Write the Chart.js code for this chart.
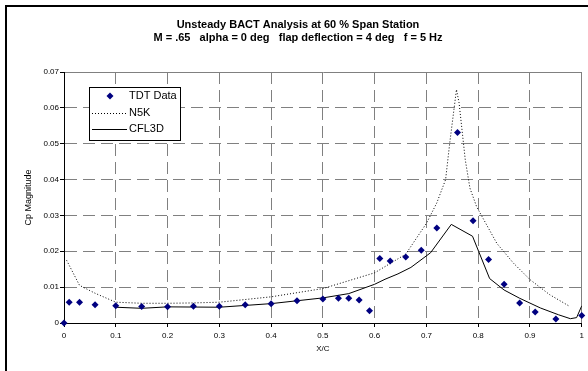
<!DOCTYPE html>
<html><head><meta charset="utf-8">
<script src="https://cdn.jsdelivr.net/npm/chart.js@4/dist/chart.umd.min.js"></script>
<style>html,body{margin:0;padding:0;background:#fff}#wrap{width:588px;height:371px;position:relative}</style>
</head><body><div id="wrap"><canvas id="c" width="588" height="371"></canvas></div>
<script>
const titleLines = ["Unsteady BACT Analysis at 60 % Span Station", "M = .65   alpha = 0 deg   flap deflection = 4 deg   f = 5 Hz"];
const xTitle = "X/C";
const yTitle = "Cp Magnitude";
const seriesNames = ["TDT Data", "N5K", "CFL3D"];

const tdtX = [0, 0.01, 0.03, 0.06, 0.1, 0.15, 0.2, 0.25, 0.3, 0.35, 0.4, 0.45, 0.5, 0.53, 0.55, 0.57, 0.59, 0.61, 0.63, 0.66, 0.69, 0.72, 0.76, 0.79, 0.82, 0.85, 0.88, 0.91, 0.95, 1.0];
const tdtY = [0, 0.0058, 0.0058, 0.0051, 0.0048, 0.0046, 0.0045, 0.0047, 0.0047, 0.0051, 0.0054, 0.0062, 0.0067, 0.0069, 0.0069, 0.0064, 0.0034, 0.0180, 0.0173, 0.0184, 0.0203, 0.0265, 0.0531, 0.0285, 0.0177, 0.0108, 0.0056, 0.0031, 0.0011, 0.0021];

const n5kX = [0.005, 0.03, 0.06, 0.1, 0.15, 0.2, 0.25, 0.3, 0.4, 0.5, 0.6, 0.66, 0.7, 0.72, 0.737, 0.745, 0.758, 0.763, 0.775, 0.784, 0.797, 0.836, 0.868, 0.9, 0.938, 0.977];
const n5kY = [0.0175, 0.0105, 0.0083, 0.0058, 0.0055, 0.0055, 0.0056, 0.0058, 0.0073, 0.0096, 0.0140, 0.0192, 0.0278, 0.0335, 0.0400, 0.0502, 0.0651, 0.0614, 0.0455, 0.0376, 0.0324, 0.0222, 0.0167, 0.0121, 0.0079, 0.0046];

const cflX = [0.1, 0.15, 0.2, 0.3, 0.4, 0.5, 0.55, 0.6, 0.62, 0.645, 0.67, 0.708, 0.748, 0.789, 0.822, 0.85, 0.88, 0.92, 0.955, 0.978, 0.99, 1.0];
const cflY = [0.0044, 0.0041, 0.0045, 0.0044, 0.0054, 0.0070, 0.0082, 0.0108, 0.0122, 0.0137, 0.0155, 0.0196, 0.0275, 0.0242, 0.0124, 0.0092, 0.0069, 0.0042, 0.0023, 0.0012, 0.0015, 0.0048];

const xTicks = [0, 0.1, 0.2, 0.3, 0.4, 0.5, 0.6, 0.7, 0.8, 0.9, 1];
const yTicks = [0, 0.01, 0.02, 0.03, 0.04, 0.05, 0.06, 0.07];

const pts = (xs, ys) => xs.map((x, i) => ({x: x, y: ys[i]}));
const FONT = "'Liberation Sans', Arial, sans-serif";
const GRID = '#808080';

const bgPlugin = {
  id: 'bg',
  beforeDraw(chart) {
    const c = chart.ctx;
    c.save(); c.fillStyle = '#fff'; c.fillRect(0, 0, chart.width, chart.height);
    c.strokeStyle = '#000'; c.lineWidth = 2;
    c.beginPath(); c.moveTo(6, 371); c.lineTo(6, 6); c.lineTo(588, 6); c.stroke();
    c.fillStyle = '#000'; c.textAlign = 'center'; c.textBaseline = 'middle';
    c.font = 'bold 11px ' + FONT;
    c.fillText(titleLines[0], 298, 25);
    c.fillText(titleLines[1], 298, 38);
    c.restore();
  },
  afterDraw(chart) {
    const c = chart.ctx;
    const L = 89, T = 87, W = 91, H = 53;
    c.save();
    c.fillStyle = '#fff'; c.fillRect(L, T, W, H);
    c.strokeStyle = '#000'; c.lineWidth = 1; c.strokeRect(L + 0.5, T + 0.5, W, H);
    c.font = '11px ' + FONT; c.textAlign = 'left'; c.textBaseline = 'middle'; c.fillStyle = '#000';
    const ys = [96, 113, 129];
    c.fillStyle = '#000080';
    c.beginPath(); c.moveTo(110, ys[0] - 3.5); c.lineTo(113.5, ys[0]); c.lineTo(110, ys[0] + 3.5); c.lineTo(106.5, ys[0]); c.closePath(); c.fill();
    c.strokeStyle = '#000';
    c.setLineDash([1, 2]); c.beginPath(); c.moveTo(92, ys[1] + 0.5); c.lineTo(127, ys[1] + 0.5); c.stroke();
    c.setLineDash([]); c.beginPath(); c.moveTo(92, ys[2] + 0.5); c.lineTo(127, ys[2] + 0.5); c.stroke();
    c.fillStyle = '#000';
    seriesNames.forEach((n, i) => c.fillText(n, 129, ys[i]));
    c.restore();
  }
};

new Chart(document.getElementById('c'), {
  type: 'scatter',
  data: {
    datasets: [
      {label: seriesNames[0], data: pts(tdtX, tdtY), showLine: false, pointStyle: 'rectRot', pointRadius: 3.5, pointHoverRadius: 3.5,
       backgroundColor: '#000080', borderColor: '#000080', borderWidth: 0, clip: false, order: 0},
      {label: seriesNames[1], data: pts(n5kX, n5kY), showLine: true, pointRadius: 0, borderColor: '#000', borderWidth: 1,
       borderDash: [1, 2], tension: 0, fill: false, order: 1},
      {label: seriesNames[2], data: pts(cflX, cflY), showLine: true, pointRadius: 0, borderColor: '#000', borderWidth: 1,
       tension: 0, fill: false, order: 2}
    ]
  },
  options: {
    responsive: false, animation: false, devicePixelRatio: 1,
    layout: {padding: {left: 0, top: 72, right: 3, bottom: 0}},
    plugins: {legend: {display: false}, title: {display: false}, tooltip: {enabled: false}},
    scales: {
      x: {
        type: 'linear', min: 0, max: 1,
        afterBuildTicks: s => { s.ticks = xTicks.map(v => ({value: v})); },
        afterFit: s => { s.height = 48; },
        ticks: {font: {family: FONT, size: 8}, color: '#000', padding: 4, maxRotation: 0,
                callback: v => (v === 0 ? '0' : v === 1 ? '1' : v.toFixed(1))},
        grid: {color: ctx => (ctx.tick && ctx.tick.value === 0 ? '#000' : GRID), lineWidth: 1, tickLength: 4, tickColor: '#000'},
        border: {display: true, color: '#000', width: 1,
                 dash: ctx => (ctx.tick && (ctx.tick.value === 0 || ctx.tick.value === 1) ? [] : [12, 6])},
        title: {display: true, text: xTitle, font: {family: FONT, size: 8}, color: '#000', padding: {top: 0, bottom: 17}}
      },
      y: {
        type: 'linear', min: 0, max: 0.07,
        afterBuildTicks: s => { s.ticks = yTicks.map(v => ({value: v})); },
        afterFit: s => { s.width = 64; },
        ticks: {font: {family: FONT, size: 8}, color: '#000', padding: 1,
                callback: v => (v === 0 ? '0' : v.toFixed(2))},
        grid: {color: ctx => (ctx.tick && ctx.tick.value === 0 ? '#000' : GRID), lineWidth: 1, tickLength: 4, tickColor: '#000'},
        border: {display: true, color: '#000', width: 1,
                 dash: ctx => (ctx.tick && (ctx.tick.value === 0 || Math.abs(ctx.tick.value - 0.07) < 1e-9) ? [] : [12, 6])},
        title: {display: true, text: yTitle, font: {family: FONT, size: 9}, color: '#000', padding: {top: 23, bottom: 0}}
      }
    }
  },
  plugins: [bgPlugin]
});
</script></body></html>
